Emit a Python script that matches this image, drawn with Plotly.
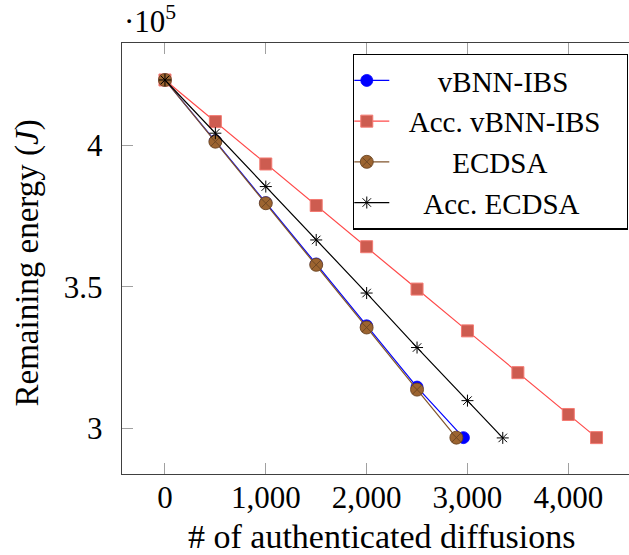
import plotly.graph_objects as go

# ---- data (remaining energy in J vs number of authenticated diffusions) ----
x_vbnn = [0, 500, 1000, 1500, 2000, 2500, 2960]
e_vbnn = [423250, 401700, 379800, 358100, 336200, 314500, 296600]

x_acc_vbnn = [0, 500, 1000, 1500, 2000, 2500, 3000, 3500, 4000, 4280]
e_acc_vbnn = [423250, 408500, 393500, 378800, 364200, 349200, 334400, 319600, 304800, 296600]

x_ecdsa = [0, 500, 1000, 1500, 2000, 2500, 2890]
e_ecdsa = [423250, 401400, 379600, 357800, 335600, 313600, 296600]

x_acc_ecdsa = [0, 500, 1000, 1500, 2000, 2500, 3000, 3350]
e_acc_ecdsa = [423250, 404400, 385500, 366600, 347800, 328500, 309700, 296500]

names = ["vBNN-IBS", "Acc. vBNN-IBS", "ECDSA", "Acc. ECDSA"]
# padding to imitate the centred legend text of the original
name_lead = ["\u2003\u2002", "\u2002", "\u2003\u2003", "\u2003"]
name_trail = "\u2002\u2009"

y_tickvals = [300000, 350000, 400000]
y_ticktext = ["3", "3.5", "4"]
x_tickvals = [0, 1000, 2000, 3000, 4000]
x_ticktext = ["0", "1,000", "2,000", "3,000", "4,000"]

FONT = "Liberation Serif"


def label(i):
    return name_lead[i] + names[i] + name_trail


fig = go.Figure()

fig.add_trace(go.Scatter(
    x=x_vbnn, y=e_vbnn, mode="lines+markers", name=label(0),
    line=dict(color="#0000ff", width=1.2),
    marker=dict(symbol="circle", size=12, color="#0000ff",
                line=dict(color="#0000ff", width=0.8)),
))
fig.add_trace(go.Scatter(
    x=x_acc_vbnn, y=e_acc_vbnn, mode="lines+markers", name=label(1),
    line=dict(color="#ff4a4a", width=1.2),
    marker=dict(symbol="square", size=12, color="#cd5c50",
                line=dict(color="#f47a72", width=1)),
))
fig.add_trace(go.Scatter(
    x=x_ecdsa, y=e_ecdsa, mode="lines+markers", name=label(2),
    line=dict(color="#80552c", width=1.2),
    marker=dict(symbol="circle-x", size=13, color="#9c6430",
                line=dict(color="#6a4422", width=0.9)),
))
fig.add_trace(go.Scatter(
    x=x_acc_ecdsa, y=e_acc_ecdsa, mode="lines+markers", name=label(3),
    line=dict(color="#000000", width=1.2),
    marker=dict(symbol="asterisk-open", size=10, color="#000000",
                line=dict(color="#000000", width=1.0)),
))

fig.update_layout(
    width=629, height=555,
    margin=dict(l=122, r=0, t=43, b=81, autoexpand=False),
    paper_bgcolor="white", plot_bgcolor="white",
    font=dict(family=FONT, size=31, color="black"),
    showlegend=True,
    legend=dict(
        x=0.998, y=0.975, xanchor="right", yanchor="top",
        bgcolor="white", bordercolor="black", borderwidth=1.3,
        font=dict(family=FONT, size=29, color="black"),
        itemwidth=45, tracegroupgap=0, indentation=-15,
    ),
    xaxis=dict(
        range=[-426, 4602], automargin=False,
        tickmode="array", tickvals=x_tickvals, ticktext=x_ticktext,
        ticks="inside", ticklen=11, tickwidth=1.3, tickcolor="#a0a0a0",
        showline=True, linecolor="#404040", linewidth=1.4, mirror="ticks",
        showgrid=False, zeroline=False,
        ticklabelstandoff=-4,
        tickfont=dict(family=FONT, size=31),
    ),
    yaxis=dict(
        range=[283720, 436340], automargin=False,
        tickmode="array", tickvals=y_tickvals, ticktext=y_ticktext,
        ticks="inside", ticklen=11, tickwidth=1.3, tickcolor="#a0a0a0",
        showline=True, linecolor="#404040", linewidth=1.4, mirror=False,
        showgrid=False, zeroline=False,
        ticklabelstandoff=12,
        tickfont=dict(family=FONT, size=31),
    ),
    annotations=[
        dict(text="\u00b710<sup>5</sup>", xref="paper", yref="paper",
             x=0, y=1, xanchor="left", yanchor="bottom", yshift=2,
             showarrow=False, font=dict(family=FONT, size=31)),
        dict(text="# of authenticated diffusions", xref="paper", yref="paper",
             x=0.511, y=0, xanchor="center", yanchor="middle", yshift=-62,
             showarrow=False, font=dict(family=FONT, size=34)),
        dict(text="Remaining energy (<i>J</i>)", xref="paper", yref="paper",
             x=0, y=0.5, xanchor="center", yanchor="middle", xshift=-95,
             yshift=-5, textangle=-90, showarrow=False,
             font=dict(family=FONT, size=33)),
    ],
)

fig.write_html(
    "out.html",
    config={"displayModeBar": False},
    post_script="document.body.style.margin='0';document.body.style.overflow='hidden';",
)
